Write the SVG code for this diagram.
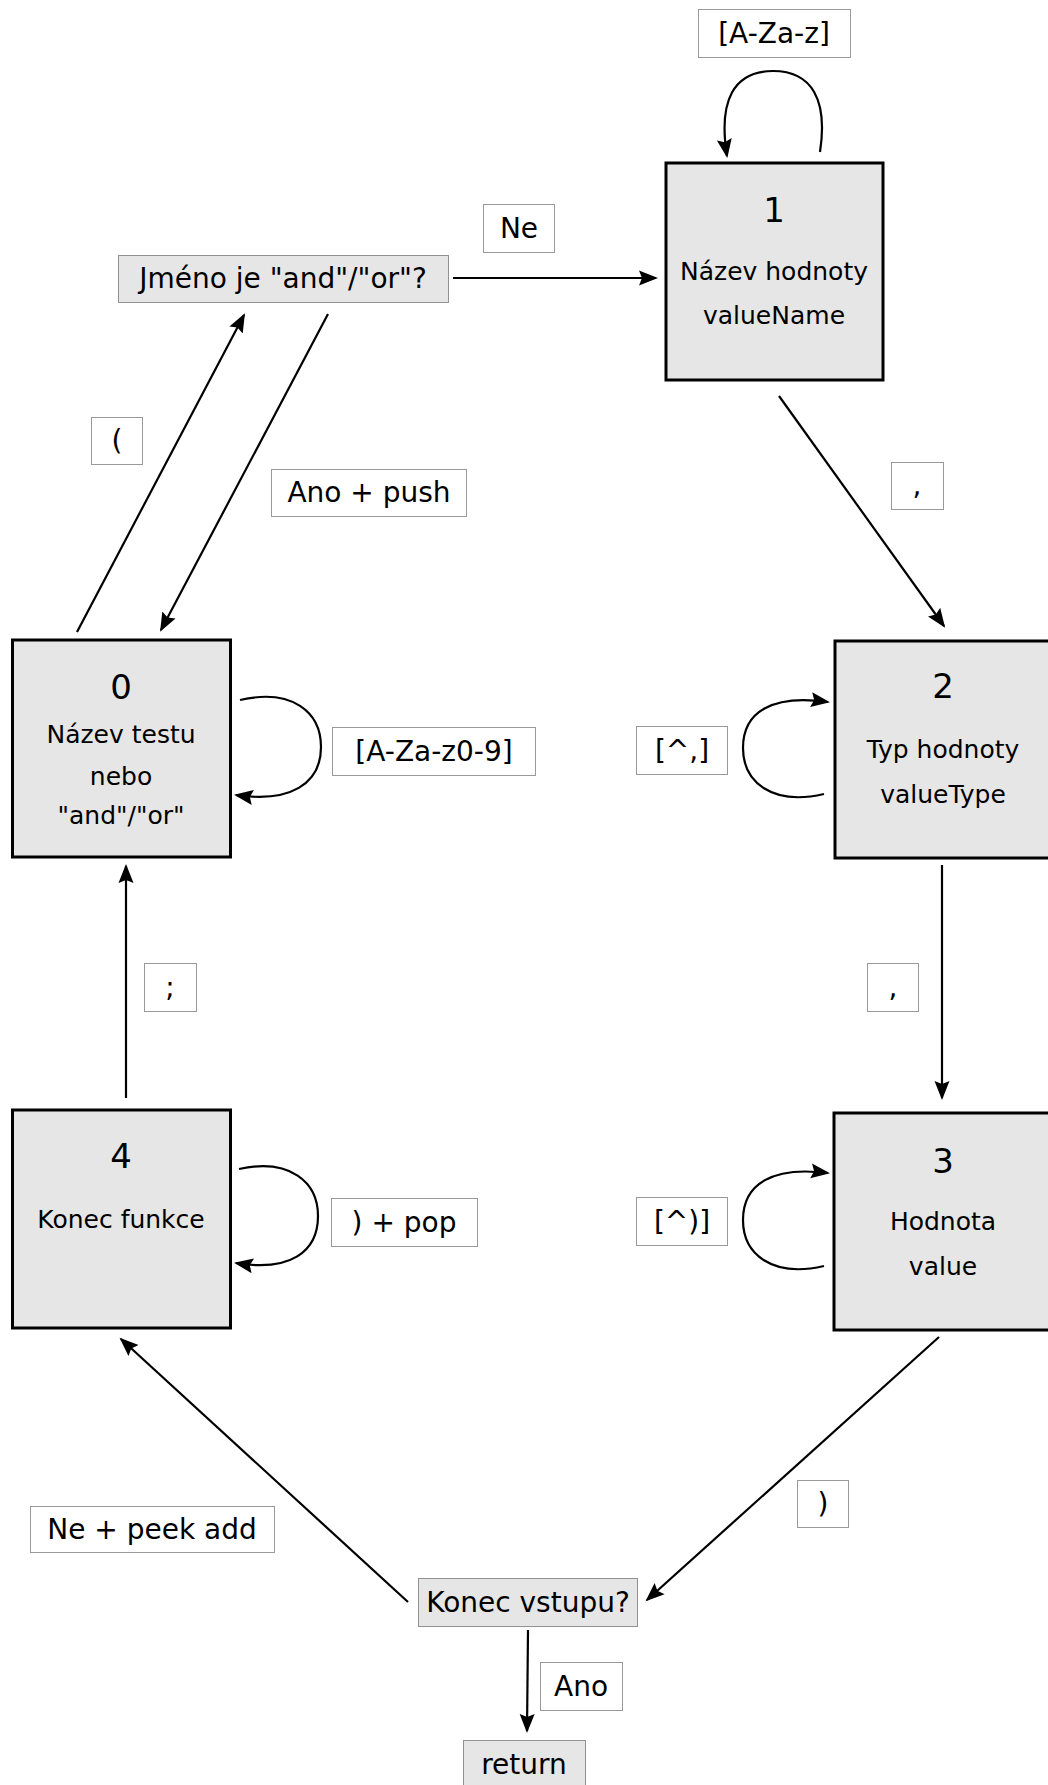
<svg xmlns="http://www.w3.org/2000/svg" width="1048" height="1785" viewBox="0 0 1048 1785">
  <style>
    text { font-family: "DejaVu Sans", "Verdana", sans-serif; fill: #000; text-anchor: middle; }
    .state rect { fill: #e6e6e6; stroke: #000; stroke-width: 3; }
    .num { font-size: 34px; }
    .desc { font-size: 25px; }
    .lbl rect { fill: #fff; stroke: #333; stroke-width: 1; stroke-dasharray: 1 1; }
    .lbl text { font-size: 28px; }
    .decision rect { fill: #e6e6e6; stroke: #333; stroke-width: 1; stroke-dasharray: 1 1; }
    .decision text { font-size: 28px; }
    .edge { fill: none; stroke: #000; stroke-width: 2.2; marker-end: url(#head); }
  </style>
  <defs>
    <marker id="head" markerUnits="userSpaceOnUse" markerWidth="22" markerHeight="16" refX="17" refY="8" orient="auto">
      <path d="M0,0.5 L19,8 L0,15.5 L3,8 z" fill="#000"/>
    </marker>
  </defs>

  <rect width="1048" height="1785" fill="#fff"/>

  <!-- connectors -->
  <g id="connectors">
    <line class="edge" x1="453" y1="278" x2="656" y2="278"/>
    <line class="edge" x1="77" y1="632" x2="244" y2="315"/>
    <line class="edge" x1="328" y1="314" x2="161" y2="630"/>
    <line class="edge" x1="779" y1="396" x2="944" y2="626"/>
    <line class="edge" x1="942" y1="865" x2="942" y2="1098"/>
    <line class="edge" x1="126" y1="1098" x2="126" y2="866"/>
    <line class="edge" x1="939" y1="1337" x2="647" y2="1600"/>
    <line class="edge" x1="408" y1="1602" x2="121" y2="1339"/>
    <line class="edge" x1="528" y1="1630" x2="527" y2="1731"/>
    <!-- self loops -->
    <path class="edge" d="M820,152 C828,100 812,71 773,71 C734,71 718,100 727,156"/>
    <path class="edge" d="M240,700 C292,688 321,712 321,747 C321,784 290,803 236,795"/>
    <path class="edge" d="M824,794 C772,806 743,782 743,748 C743,712 772,694 828,702"/>
    <path class="edge" d="M824,1266 C772,1278 743,1254 743,1220 C743,1184 772,1166 828,1173"/>
    <path class="edge" d="M239,1169 C290,1158 318,1182 318,1216 C318,1252 290,1272 236,1263"/>
  </g>

  <!-- edge labels -->
  <g id="label-azloop" class="lbl"><rect x="698.5" y="9.5" width="152" height="48"/><text x="774" y="43">[A-Za-z]</text></g>
  <g id="label-ne" class="lbl"><rect x="483.5" y="204.5" width="71" height="48"/><text x="519" y="238">Ne</text></g>
  <g id="label-paren" class="lbl"><rect x="91.5" y="417.5" width="51" height="47"/><text x="117" y="450">(</text></g>
  <g id="label-anopush" class="lbl"><rect x="271.5" y="469.5" width="195" height="47"/><text x="369" y="502">Ano + push</text></g>
  <g id="label-comma1" class="lbl"><rect x="891.5" y="462.5" width="52" height="47"/><text x="917" y="495">,</text></g>
  <g id="label-aznum" class="lbl"><rect x="332.5" y="727.5" width="203" height="48"/><text x="434" y="761">[A-Za-z0-9]</text></g>
  <g id="label-notcomma" class="lbl"><rect x="636.5" y="726.5" width="91" height="48"/><text x="682" y="760">[^,]</text></g>
  <g id="label-comma2" class="lbl"><rect x="867.5" y="963.5" width="51" height="48"/><text x="893" y="997">,</text></g>
  <g id="label-semi" class="lbl"><rect x="144.5" y="963.5" width="52" height="48"/><text x="170" y="997">;</text></g>
  <g id="label-pop" class="lbl"><rect x="331.5" y="1198.5" width="146" height="48"/><text x="404" y="1232">) + pop</text></g>
  <g id="label-notparen" class="lbl"><rect x="636.5" y="1197.5" width="91" height="48"/><text x="682" y="1231">[^)]</text></g>
  <g id="label-close" class="lbl"><rect x="797.5" y="1480.5" width="51" height="47"/><text x="823" y="1513">)</text></g>
  <g id="label-peek" class="lbl"><rect x="30.5" y="1506.5" width="244" height="46"/><text x="152" y="1539">Ne + peek add</text></g>
  <g id="label-ano" class="lbl"><rect x="540.5" y="1662.5" width="82" height="48"/><text x="581" y="1696">Ano</text></g>

  <!-- decision boxes -->
  <g id="check-name" class="decision"><rect x="118.5" y="255.5" width="330" height="47"/><text x="283" y="288">Jméno je "and"/"or"?</text></g>
  <g id="check-end" class="decision"><rect x="418.5" y="1578.5" width="219" height="48"/><text x="528" y="1612">Konec vstupu?</text></g>
  <g id="return" class="decision"><rect x="463.5" y="1740.5" width="122" height="60"/><text x="524" y="1774">return</text></g>

  <!-- states -->
  <g id="state-0" class="state">
    <rect x="12.5" y="640" width="218" height="217"/>
    <text class="num" x="121" y="699">0</text>
    <text class="desc" x="121" y="743">Název testu</text>
    <text class="desc" x="121" y="785">nebo</text>
    <text class="desc" x="121" y="824">"and"/"or"</text>
  </g>
  <g id="state-1" class="state">
    <rect x="666" y="163" width="217" height="217"/>
    <text class="num" x="774" y="222">1</text>
    <text class="desc" x="774" y="280">Název hodnoty</text>
    <text class="desc" x="774" y="324">valueName</text>
  </g>
  <g id="state-2" class="state">
    <rect x="835" y="641" width="218" height="217"/>
    <text class="num" x="943" y="698">2</text>
    <text class="desc" x="943" y="758">Typ hodnoty</text>
    <text class="desc" x="943" y="803">valueType</text>
  </g>
  <g id="state-3" class="state">
    <rect x="834" y="1113" width="218" height="217"/>
    <text class="num" x="943" y="1173">3</text>
    <text class="desc" x="943" y="1230">Hodnota</text>
    <text class="desc" x="943" y="1275">value</text>
  </g>
  <g id="state-4" class="state">
    <rect x="12.5" y="1110" width="218" height="218"/>
    <text class="num" x="121" y="1168">4</text>
    <text class="desc" x="121" y="1228">Konec funkce</text>
  </g>
</svg>
